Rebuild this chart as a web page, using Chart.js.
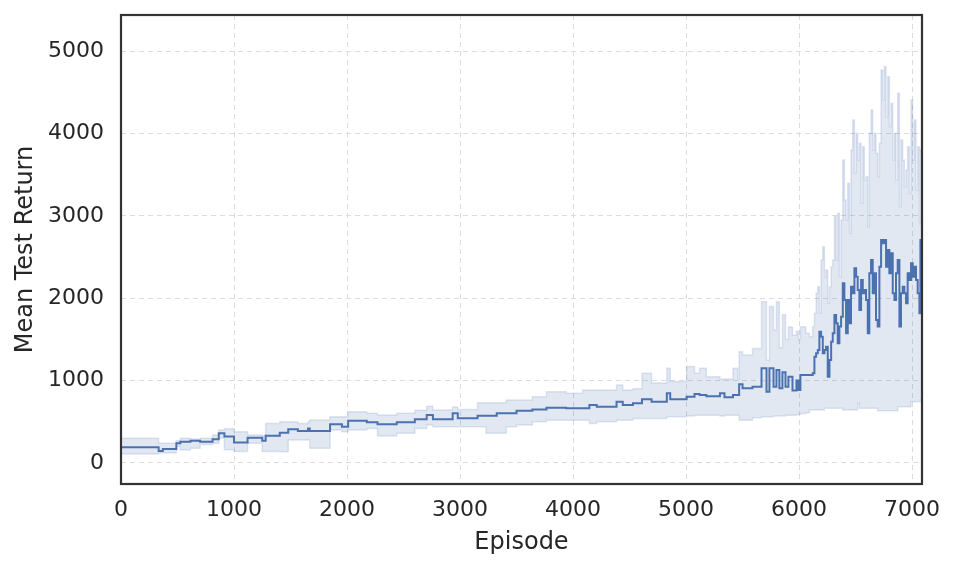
<!DOCTYPE html>
<html><head><meta charset="utf-8">
<script src="https://cdn.jsdelivr.net/npm/chart.js@4.4.1/dist/chart.umd.min.js"></script>
<style>html,body{margin:0;padding:0;background:#fff}canvas{display:block}</style>
</head><body>
<canvas id="c" width="955" height="569"></canvas>
<script>
const episodes = [0,333,370,490,525,615,700,810,865,915,1000,1120,1250,1280,1405,1480,1565,1655,1670,1850,1955,2010,2175,2270,2440,2600,2705,2760,2935,2980,3155,3230,3325,3410,3500,3640,3765,3940,4085,4145,4210,4385,4440,4530,4610,4695,4830,4860,5005,5075,5120,5180,5300,5340,5415,5460,5470,5500,
5588,5668,5712,5738,5774,5800,5826,5853,5880,5906,5942,5977,5995,6012,6060,
6092,6107,6121,6136,6151,6166,6180,6195,6210,6225,6239,6254,6269,6284,6298,6313,6328,6342,6357,6372,6387,6401,6416,6431,6446,6460,6475,6490,6505,6519,6534,6549,6564,6578,6593,6608,6622,6637,6652,6667,6681,6696,6711,6726,6740,6755,6770,6785,6799,6814,6829,6844,6858,6873,6888,6902,6917,6932,6947,6961,6976,6991,7006,7020,7035,7050,7065,7074,7088];
const meanReturn = [190,145,170,240,259,270,259,287,360,320,250,307,270,332,368,408,388,420,388,470,440,513,494,470,494,530,583,530,603,542,574,574,603,603,635,650,671,663,663,704,683,744,704,724,773,744,845,773,805,837,825,810,845,797,825,825,955,906,
926,1150,865,1150,926,1130,906,1100,926,1047,880,1000,885,1068,1068,
1068,1068,1088,1290,1331,1371,1594,1533,1331,1371,1412,1048,1250,1472,1574,1796,1695,1452,1655,1776,2180,1978,1574,1978,1695,2140,2059,2362,2261,2100,1857,2221,2059,2100,1978,1574,2302,2464,2059,2302,1735,1655,2383,2706,2666,2706,2383,2585,2302,2545,2059,1978,2302,2464,1655,2059,2140,2059,1938,2302,2221,2423,2261,2383,2221,2059,1816,2706,2706];
const upperCI = [300,239,239,270,300,290,300,340,400,417,380,340,330,480,500,500,480,500,522,560,560,623,603,583,603,640,690,643,680,650,732,732,732,765,765,805,865,845,885,885,885,946,885,900,1088,970,1150,990,1170,1088,1150,1047,1020,1020,1150,1020,1350,1310,
1390,1957,1250,1900,1614,1957,1400,1800,1500,1650,1550,1600,1500,1654,1575,
1533,1533,1655,1816,2059,2140,1816,2464,2625,2261,2342,1938,2140,2383,2464,2990,2464,3030,2261,2949,3677,3192,2949,3394,2787,3798,4163,3515,4001,3677,3880,3151,3839,3434,3475,2868,4001,4284,3798,4001,3758,3475,3880,4770,4406,4810,4203,4689,4082,4365,3677,4001,3434,4487,3110,3920,3677,3353,3555,3839,3272,4406,3677,4163,3313,3839,2908,3798,3798];
const lowerCI = [109,120,120,200,158,180,225,240,300,160,140,240,140,140,137,279,279,279,178,400,380,400,420,328,360,420,460,440,440,440,440,360,360,440,460,500,520,520,520,480,500,520,520,540,540,540,560,562,570,580,580,580,570,580,580,580,520,520,
550,560,560,560,570,570,570,570,580,580,580,590,590,600,610,
643,643,643,643,643,643,643,643,643,663,663,663,663,663,663,663,663,663,663,663,643,643,643,643,643,643,643,643,643,724,663,663,663,663,663,663,663,663,663,663,663,633,633,633,633,633,633,633,633,633,633,633,633,683,683,683,683,683,683,683,683,744,744,744,744,744,744,765,765];
const xTickValues = [0,1000,2000,3000,4000,5000,6000,7000];
const yTickValues = [0,1000,2000,3000,4000,5000];
const xTitle = 'Episode';
const yTitle = 'Mean Test Return';

const toPts = arr => episodes.map((e,i)=>({x:e,y:arr[i]}));
const ink = '#262626';
const FONT = "'DejaVu Sans', sans-serif";

const framePlugin = {
  id:'frame',
  afterDraw(chart){
    const a = chart.chartArea, ctx = chart.ctx;
    ctx.save();
    ctx.strokeStyle = '#333333';
    ctx.lineWidth = 2.2;
    ctx.setLineDash([]);
    ctx.strokeRect(a.left, a.top, a.right-a.left, a.bottom-a.top);
    ctx.restore();
  }
};

new Chart(document.getElementById('c'), {
  type:'line',
  data:{
    datasets:[
      {label:'upper', data:toPts(upperCI), stepped:true, borderColor:'rgba(76,114,176,0.17)', borderWidth:1.5,
       backgroundColor:'rgba(76,114,176,0.16)', fill:'+1', pointRadius:0},
      {label:'lower', data:toPts(lowerCI), stepped:true, borderColor:'rgba(76,114,176,0.17)', borderWidth:1.5,
       fill:false, pointRadius:0},
      {label:'mean', data:toPts(meanReturn), stepped:true, borderColor:'#4c72b0', borderWidth:2,
       fill:false, pointRadius:0}
    ]
  },
  options:{
    responsive:false, animation:false, devicePixelRatio:1,
    layout:{padding:{left:0,right:33,top:15,bottom:0}},
    plugins:{legend:{display:false}, tooltip:{enabled:false}},
    scales:{
      x:{type:'linear', min:0, max:7088,
        afterBuildTicks(s){ s.ticks = xTickValues.map(v=>({value:v})); },
        afterFit(s){ s.height = 85; s.paddingLeft = 0; s.paddingRight = 0; },
        grid:{color:'#dcdcdc', lineWidth:1, drawTicks:false},
        border:{display:false, dash:[5,4]},
        ticks:{padding:13, color:ink, font:{family:FONT,size:22}, maxRotation:0, autoSkip:false, callback:v=>String(v)},
        title:{display:true, text:xTitle, color:ink, font:{family:FONT,size:24}, padding:{top:0,bottom:12}}
      },
      y:{type:'linear', min:-255, max:5437,
        afterBuildTicks(s){ s.ticks = yTickValues.map(v=>({value:v})); },
        afterFit(s){ s.width = 121; s.paddingTop = 0; s.paddingBottom = 0; },
        grid:{color:'#dcdcdc', lineWidth:1, drawTicks:false},
        border:{display:false, dash:[5,4]},
        ticks:{padding:17, color:ink, font:{family:FONT,size:22}, autoSkip:false, callback:v=>String(v)},
        title:{display:true, text:yTitle, color:ink, font:{family:FONT,size:24}, padding:{top:11,bottom:0}}
      }
    }
  },
  plugins:[framePlugin]
});
</script>
</body></html>
